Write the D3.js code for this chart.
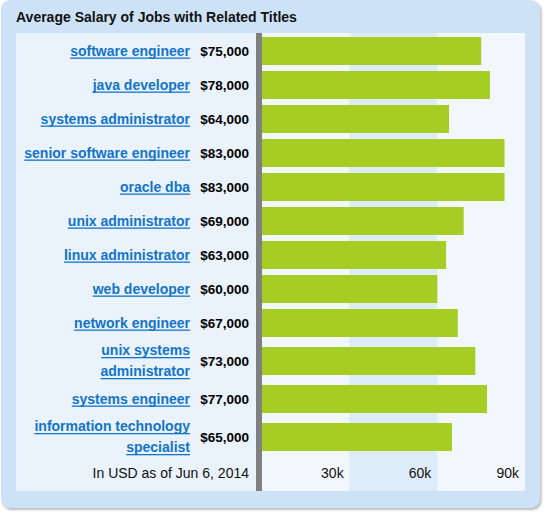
<!DOCTYPE html>
<html>
<head>
<meta charset="utf-8">
<script src="https://cdn.jsdelivr.net/npm/d3@7"></script>
<style>
  body { margin: 0; background: #fff; }
  text { font-family: "Liberation Sans", Arial, Helvetica, sans-serif; }
</style>
</head>
<body>
<div id="chart-area"></div>
<script>
// data
const jobTitles = [
  "software engineer",
  "java developer",
  "systems administrator",
  "senior software engineer",
  "oracle dba",
  "unix administrator",
  "linux administrator",
  "web developer",
  "network engineer",
  "unix systems\nadministrator",
  "systems engineer",
  "information technology\nspecialist"
]
const salaries = [75000, 78000, 64000, 83000, 83000, 69000, 63000, 60000, 67000, 73000, 77000, 65000]
const tickValues = [30000, 60000, 90000]
const bandEdges = [0, 30000, 60000, 90000]
const titleText = "Average Salary of Jobs with Related Titles"
const noteText = "In USD as of Jun 6, 2014"

const W = 545
const H = 515
const PANEL = { LEFT: 1, TOP: 0, RIGHT: 540, BOTTOM: 508 }
const INNER = { LEFT: 16, TOP: 33, RIGHT: 525, BOTTOM: 491 }
const AXIS_X = 256      // gray axis line left edge
const AXIS_W = 6
const ROW_H = 34        // single line row
const LINE_EXTRA = 8    // extra height per extra text line
const BAR_H = 28

const svg = d3.select("#chart-area").append("svg")
  .attr("width", W)
  .attr("height", H)

// shadow filter for the panel
const defs = svg.append("defs")
const f = defs.append("filter").attr("id", "shadow")
  .attr("x", "-5%").attr("y", "-5%").attr("width", "110%").attr("height", "110%")
f.append("feGaussianBlur").attr("stdDeviation", 1)

svg.append("rect")
  .attr("x", PANEL.LEFT + 1.5)
  .attr("y", PANEL.TOP + 2)
  .attr("width", PANEL.RIGHT - PANEL.LEFT)
  .attr("height", PANEL.BOTTOM - PANEL.TOP)
  .attr("rx", 9)
  .attr("fill", "#b9bcc0")
  .attr("filter", "url(#shadow)")

svg.append("rect")
  .attr("x", PANEL.LEFT)
  .attr("y", PANEL.TOP)
  .attr("width", PANEL.RIGHT - PANEL.LEFT)
  .attr("height", PANEL.BOTTOM - PANEL.TOP)
  .attr("rx", 9)
  .attr("fill", "#cde2f6")

svg.append("text")
  .attr("x", INNER.LEFT)
  .attr("y", 22)
  .attr("font-size", "14px")
  .attr("font-weight", "bold")
  .attr("fill", "#111")
  .text(titleText)

// label column background
svg.append("rect")
  .attr("x", INNER.LEFT)
  .attr("y", INNER.TOP)
  .attr("width", AXIS_X - INNER.LEFT)
  .attr("height", INNER.BOTTOM - INNER.TOP)
  .attr("fill", "#eaf2fb")

// scales
const x = d3.scaleLinear()
  .domain([0, 90000])
  .range([AXIS_X + AXIS_W, INNER.RIGHT])

// rows: two-line titles get taller rows
const rows = jobTitles.map((t, i) => ({ lines: t.split("\n"), salary: salaries[i] }))
let yCursor = INNER.TOP + 1
rows.forEach(r => {
  r.h = ROW_H + (r.lines.length - 1) * LINE_EXTRA
  r.y0 = yCursor
  r.cy = yCursor + r.h / 2
  yCursor += r.h
})
const axisTop = yCursor

// background bands between gridlines
const bands = d3.pairs(bandEdges)
svg.append("g").selectAll("rect")
  .data(bands)
  .enter().append("rect")
  .attr("x", d => x(d[0]))
  .attr("y", INNER.TOP)
  .attr("width", d => x(d[1]) - x(d[0]))
  .attr("height", INNER.BOTTOM - INNER.TOP)
  .attr("fill", (d, i) => i % 2 ? "#deebf8" : "#f2f7fd")

// bars
svg.append("g").selectAll("rect")
  .data(rows)
  .enter().append("rect")
  .attr("x", x(0))
  .attr("y", d => d.cy - BAR_H / 2)
  .attr("width", d => x(d.salary) - x(0))
  .attr("height", BAR_H)
  .attr("fill", "#a5cd24")

// gray axis line
svg.append("rect")
  .attr("x", AXIS_X)
  .attr("y", INNER.TOP)
  .attr("width", AXIS_W)
  .attr("height", INNER.BOTTOM - INNER.TOP)
  .attr("fill", "#808080")

// salary labels
const fmt = d3.format("$,")
svg.append("g").selectAll("text")
  .data(rows)
  .enter().append("text")
  .attr("x", 249)
  .attr("y", d => d.cy + 4.5)
  .attr("text-anchor", "end")
  .attr("font-size", "13.5px")
  .attr("font-weight", "bold")
  .attr("fill", "#000")
  .text(d => fmt(d.salary))

// job title links
const LINE_GAP = 21
const titles = svg.append("g")
rows.forEach(r => {
  r.lines.forEach((line, j) => {
    const base = r.cy + 4.5 + (j - (r.lines.length - 1) / 2) * LINE_GAP
    const t = titles.append("text")
      .attr("x", 190)
      .attr("y", base)
      .attr("text-anchor", "end")
      .attr("font-size", "14px")
      .attr("font-weight", "bold")
      .attr("fill", "#1274cb")
      .text(line)
    const w = t.node().getComputedTextLength()
    titles.append("rect")
      .attr("x", 190 - w)
      .attr("y", base + 2)
      .attr("width", w)
      .attr("height", 1.3)
      .attr("fill", "#1274cb")
  })
})

// x axis tick labels
const xAxisCall = d3.axisBottom(x)
  .tickValues(tickValues)
  .tickSize(0)
  .tickFormat(d => `${d / 1000}k`)
const xAxis = svg.append("g")
  .attr("transform", `translate(0, ${axisTop + 20})`)
  .call(xAxisCall)
xAxis.select(".domain").remove()
xAxis.selectAll("text")
  .attr("y", 0)
  .attr("dy", 0)
  .attr("dx", -6.5)
  .attr("text-anchor", "end")
  .attr("font-size", "14px")
  .attr("font-family", "Liberation Sans, Arial, sans-serif")
  .attr("fill", "#111")

svg.append("text")
  .attr("x", 249)
  .attr("y", axisTop + 20)
  .attr("text-anchor", "end")
  .attr("font-size", "14px")
  .attr("fill", "#111")
  .text(noteText)
</script>
</body>
</html>
